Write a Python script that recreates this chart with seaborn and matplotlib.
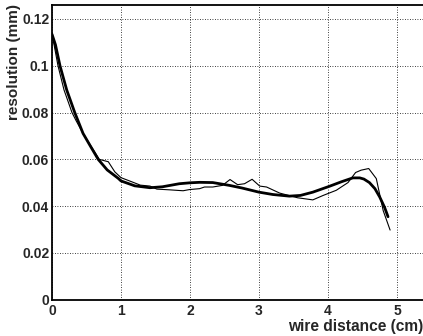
import matplotlib
matplotlib.use("Agg")
import matplotlib.pyplot as plt
import seaborn as sns
import pandas as pd
from matplotlib.ticker import MultipleLocator

# measured resolution (thin line)
data_x = [0.0, 0.03, 0.087, 0.174, 0.29, 0.35, 0.45, 0.686, 0.816, 0.91, 0.96, 1.0,
          1.15, 1.28, 1.42, 1.52, 1.70, 1.90, 1.99, 2.14, 2.21, 2.33, 2.47, 2.58,
          2.69, 2.79, 2.90, 3.01, 3.11, 3.30, 3.56, 3.78, 3.93, 4.12, 4.29, 4.40,
          4.48, 4.59, 4.70, 4.80, 4.90]
data_y = [0.1135, 0.109, 0.100, 0.0897, 0.080, 0.0765, 0.0711, 0.060, 0.059, 0.0547,
          0.0533, 0.0522, 0.0505, 0.049, 0.0486, 0.0473, 0.0470, 0.0466, 0.0471,
          0.0475, 0.0482, 0.0482, 0.0489, 0.0514, 0.0492, 0.0496, 0.0515, 0.0486,
          0.0482, 0.0456, 0.0436, 0.0427, 0.0446, 0.0468, 0.0501, 0.0544, 0.0554,
          0.0561, 0.0518, 0.0381, 0.0298]

# fitted curve (thick line)
fit_x = [0.0, 0.05, 0.116, 0.213, 0.33, 0.45, 0.55, 0.67, 0.8, 0.96, 1.0, 1.2, 1.42,
         1.6, 1.845, 2.0, 2.14, 2.33, 2.57, 2.75, 3.0, 3.2, 3.44, 3.6, 3.78, 4.02,
         4.2, 4.36, 4.46, 4.52, 4.6, 4.68, 4.75, 4.82, 4.87]
fit_y = [0.1135, 0.109, 0.100, 0.0897, 0.080, 0.0711, 0.066, 0.060, 0.0555, 0.0519,
         0.0508, 0.0487, 0.0479, 0.0483, 0.0496, 0.0500, 0.0502, 0.0501, 0.0489,
         0.0478, 0.0460, 0.0450, 0.0443, 0.0446, 0.0460, 0.0485, 0.0505, 0.0521,
         0.0521, 0.0516, 0.0501, 0.0475, 0.0439, 0.0395, 0.0355]

x_ticks = [0, 1, 2, 3, 4, 5]
x_tick_labels = ["0", "1", "2", "3", "4", "5"]
y_ticks = [0, 0.02, 0.04, 0.06, 0.08, 0.1, 0.12]
y_tick_labels = ["0", "0.02", "0.04", "0.06", "0.08", "0.1", "0.12"]
x_label = "wire distance (cm)"
y_label = "resolution (mm)"

sns.set_style("white")
plt.rcParams["font.family"] = ["Liberation Sans", "DejaVu Sans"]
plt.rcParams["font.weight"] = "bold"

fig = plt.figure(figsize=(4.23, 3.36), dpi=100)
ax = fig.add_axes([52/423, 36.2/336, 1 - 52/423, (299.8 - 4.5)/336])

df_data = pd.DataFrame({"x": data_x, "y": data_y})
df_fit = pd.DataFrame({"x": fit_x, "y": fit_y})
sns.lineplot(data=df_data, x="x", y="y", ax=ax, color="black", linewidth=0.8, sort=False)
sns.lineplot(data=df_fit, x="x", y="y", ax=ax, color="black", linewidth=2.0, sort=False)

ax.set_xlim(0, 371/69)
ax.set_ylim(0, (299.8 - 4.5)/2340)

ax.xaxis.set_minor_locator(MultipleLocator(0.2))
ax.yaxis.set_minor_locator(MultipleLocator(0.004))
ax.set_xticks(x_ticks)
ax.set_xticklabels(x_tick_labels, fontweight="bold", fontsize=10,
                   fontfamily="Liberation Sans")
ax.set_yticks(y_ticks)
ax.set_yticklabels(y_tick_labels, fontweight="bold", fontsize=10,
                   fontfamily="Liberation Sans")

ax.tick_params(axis="both", which="major", direction="in", length=8, width=1,
               color="black", top=False, right=False)
ax.tick_params(axis="both", which="minor", direction="in", length=4.5, width=1,
               color="black", top=False, right=False)
ax.tick_params(axis="x", which="major", pad=3)
ax.tick_params(axis="y", which="major", pad=2)

ax.grid(True, which="major", color="black", linestyle=(0, (1, 2)), linewidth=0.6)

for s in ["left", "bottom", "top"]:
    ax.spines[s].set_color("black")
    ax.spines[s].set_linewidth(1.3)
ax.spines["right"].set_visible(False)

ax.set_xlabel(x_label, fontsize=11.2, fontweight="bold", loc="right", labelpad=1)
ax.set_ylabel(y_label, fontsize=11, fontweight="bold", loc="top", labelpad=1)

fig.savefig("out.png", dpi=100)
